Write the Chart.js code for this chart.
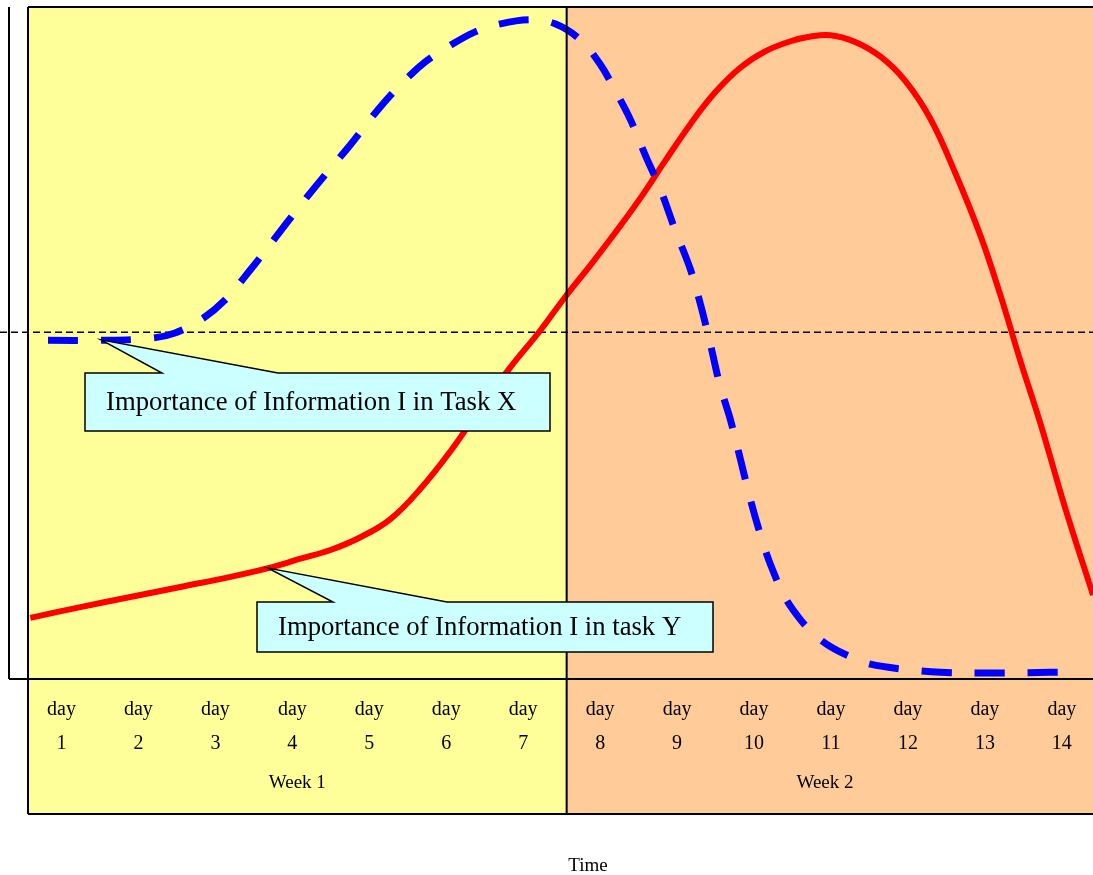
<!DOCTYPE html>
<html>
<head>
<meta charset="utf-8">
<title>Importance of Information over Time</title>
<script src="https://cdn.jsdelivr.net/npm/chart.js@4.4.1/dist/chart.umd.min.js"></script>
<style>
  html, body { margin: 0; padding: 0; background: #ffffff; overflow: hidden; }
  canvas { display: block; }
</style>
</head>
<body>
<canvas id="chart" width="1093" height="875"></canvas>
<script>
// Donnees (x en jours depuis le debut de la semaine 1, y en importance 0-100)
const taskXDays = [0.26, 0.94, 1.59, 1.91, 2.24, 2.56, 2.89, 3.21, 3.54, 3.86, 4.19, 4.51, 4.84, 5.16, 5.49, 5.81, 6.14, 6.53, 6.85, 7.18, 7.44, 7.63, 7.83, 8.02, 8.22, 8.41, 8.61, 8.74, 8.87, 8.99, 9.13, 9.26, 9.39, 9.52, 9.65, 9.84, 10.04, 10.23, 10.43, 10.69, 10.95, 11.34, 11.86, 12.64, 13.28, 13.67];
const taskXValues = [50.4, 50.4, 50.7, 51.5, 53.4, 56.4, 60.9, 65.6, 70.5, 75.0, 79.5, 84.2, 88.4, 91.8, 94.3, 96.3, 97.5, 98.1, 97.5, 95.1, 91.4, 87.6, 83.2, 78.0, 72.8, 66.8, 60.9, 55.7, 49.7, 43.8, 38.5, 32.6, 26.6, 21.4, 17.0, 12.1, 8.8, 6.5, 4.8, 3.3, 2.2, 1.5, 1.0, 0.9, 1.0, 1.0];

const taskYDays = [0.03, 0.68, 1.33, 1.98, 2.63, 3.12, 3.54, 3.93, 4.32, 4.71, 5.10, 5.49, 5.88, 6.27, 6.66, 6.99, 7.31, 7.63, 7.96, 8.28, 8.61, 8.93, 9.26, 9.58, 9.91, 10.17, 10.43, 10.75, 11.08, 11.40, 11.73, 12.05, 12.38, 12.64, 12.90, 13.16, 13.48, 13.84];
const taskYValues = [9.1, 10.7, 12.2, 13.7, 15.2, 16.5, 17.9, 19.2, 21.1, 23.8, 28.3, 33.9, 40.3, 46.4, 51.9, 57.0, 61.6, 66.4, 71.6, 77.1, 82.6, 87.3, 91.0, 93.4, 94.9, 95.6, 95.8, 94.8, 92.6, 89.0, 83.3, 75.3, 65.9, 57.0, 47.2, 37.9, 25.4, 12.5];

const thresholdValue = 51.6;
const dayNumbers = ['1', '2', '3', '4', '5', '6', '7', '8', '9', '10', '11', '12', '13', '14'];
const weekLabels = ['Week 1', 'Week 2'];
const xAxisTitle = 'Time';
const calloutX = 'Importance of Information I in Task X';
const calloutY = 'Importance of Information I in task Y';

// Couleurs
const YELLOW = '#FFFF99';
const ORANGE = '#FFCC99';
const CYAN = '#CCFFFF';
const SERIF = '"Liberation Serif", "Times New Roman", serif';

function toPoints(xs, ys) {
    return xs.map((x, i) => ({ x: x, y: ys[i] }));
}

// Dessine un callout (bulle avec pointe)
function drawCallout(ctx, tip, box, base, text) {
    ctx.save();
    ctx.fillStyle = CYAN;
    ctx.strokeStyle = '#000';
    ctx.lineWidth = 1.5;
    ctx.beginPath();
    ctx.moveTo(box.l, box.t);
    ctx.lineTo(base[0], box.t);
    ctx.lineTo(tip.x, tip.y);
    ctx.lineTo(base[1], box.t);
    ctx.lineTo(box.r, box.t);
    ctx.lineTo(box.r, box.b);
    ctx.lineTo(box.l, box.b);
    ctx.closePath();
    ctx.fill();
    ctx.stroke();
    ctx.fillStyle = '#000';
    ctx.font = '26.7px ' + SERIF;
    ctx.textAlign = 'left';
    ctx.textBaseline = 'middle';
    ctx.fillText(text, box.l + 21, (box.t + box.b) / 2 + 1);
    ctx.restore();
}

const backgroundPlugin = {
    id: 'background',
    beforeDatasetsDraw(chart) {
        const ctx = chart.ctx;
        const xs = chart.scales.x, ys = chart.scales.y;
        const area = chart.chartArea;
        const mid = xs.getPixelForValue(7);
        const tableBottom = 814;
        ctx.save();
        ctx.fillStyle = YELLOW;
        ctx.fillRect(area.left, area.top, mid - area.left, tableBottom - area.top);
        ctx.fillStyle = ORANGE;
        ctx.fillRect(mid, area.top, chart.width - mid, tableBottom - area.top);

        // ligne pointillee horizontale
        const ty = ys.getPixelForValue(thresholdValue);
        ctx.strokeStyle = '#000';
        ctx.lineWidth = 1.3;
        ctx.setLineDash([7, 4]);
        ctx.beginPath();
        ctx.moveTo(0, ty);
        ctx.lineTo(chart.width, ty);
        ctx.stroke();
        ctx.restore();
    },
    afterDatasetsDraw(chart) {
        const ctx = chart.ctx;
        const xs = chart.scales.x, ys = chart.scales.y;
        const area = chart.chartArea;
        const mid = xs.getPixelForValue(7);
        const tableBottom = 814;

        // Cadres
        ctx.save();
        ctx.strokeStyle = '#000';
        ctx.lineWidth = 2;
        ctx.beginPath();
        ctx.moveTo(area.left, area.top); ctx.lineTo(chart.width, area.top);
        ctx.moveTo(area.left, area.top); ctx.lineTo(area.left, tableBottom);
        ctx.moveTo(9, area.top); ctx.lineTo(9, area.bottom);
        ctx.moveTo(9, area.bottom); ctx.lineTo(chart.width, area.bottom);
        ctx.moveTo(area.left, tableBottom); ctx.lineTo(chart.width, tableBottom);
        ctx.moveTo(mid, area.top); ctx.lineTo(mid, tableBottom);
        ctx.stroke();

        // Etiquettes des jours
        ctx.fillStyle = '#000';
        ctx.textAlign = 'center';
        ctx.textBaseline = 'middle';
        ctx.font = '20px ' + SERIF;
        dayNumbers.forEach((d, i) => {
            const cx = xs.getPixelForValue(i + 0.5) - 5;
            ctx.fillText('day', cx, 710);
            ctx.fillText(d, cx, 744);
        });
        ctx.font = '19px ' + SERIF;
        weekLabels.forEach((w, i) => {
            const cx = xs.getPixelForValue(i * 7 + 3.5) + (i === 0 ? 0 : -11);
            ctx.fillText(w, cx, 783);
        });
        ctx.fillText(xAxisTitle, 588, 866);
        ctx.restore();

        // Callouts (par-dessus les cadres)
        drawCallout(ctx,
            { x: xs.getPixelForValue(0.95), y: ys.getPixelForValue(taskXValues[1]) - 0.5 },
            { l: 85, t: 373, r: 550, b: 431 }, [162, 278], calloutX);
        drawCallout(ctx,
            { x: xs.getPixelForValue(taskYDays[5]), y: ys.getPixelForValue(taskYValues[5]) },
            { l: 257, t: 602, r: 713, b: 652 }, [333, 447], calloutY);
    }
};

const ctx = document.getElementById('chart').getContext('2d');
new Chart(ctx, {
    type: 'line',
    data: {
        datasets: [
            {
                label: 'Task X',
                data: toPoints(taskXDays, taskXValues),
                borderColor: '#0000FF',
                borderWidth: 7,
                borderDash: [30, 23],
                borderCapStyle: 'butt',
                pointRadius: 0,
                tension: 0.35,
                fill: false
            },
            {
                label: 'Task Y',
                data: toPoints(taskYDays, taskYValues),
                borderColor: '#FF0000',
                borderWidth: 6,
                pointRadius: 0,
                tension: 0.4,
                fill: false
            }
        ]
    },
    options: {
        responsive: false,
        animation: false,
        layout: { padding: { left: 28, top: 7, right: 0, bottom: 196 } },
        plugins: {
            legend: { display: false },
            tooltip: { enabled: false }
        },
        scales: {
            x: { type: 'linear', min: 0, max: 13.84, display: false },
            y: { min: 0, max: 100, display: false }
        }
    },
    plugins: [backgroundPlugin]
});
</script>
</body>
</html>
